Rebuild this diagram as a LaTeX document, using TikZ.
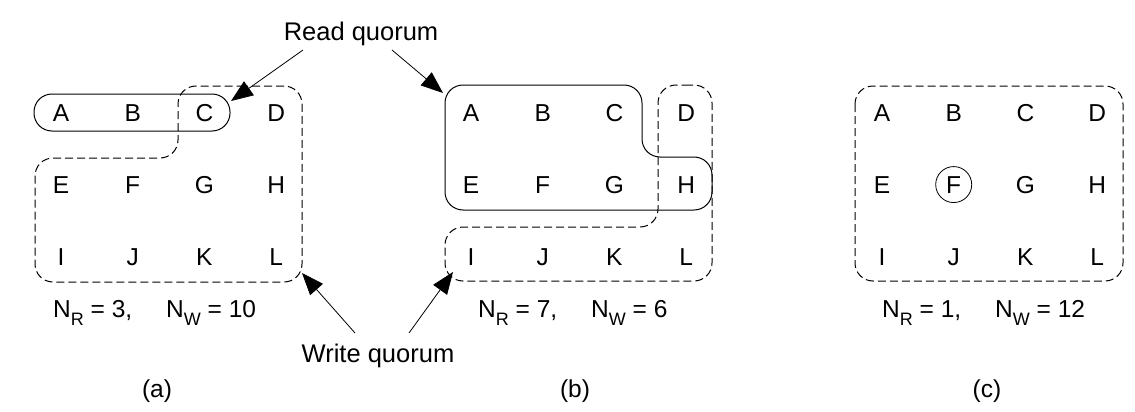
\documentclass[tikz,border=0pt]{standalone}
\usepackage{fontspec}
\setmainfont{Liberation Sans}
\usetikzlibrary{arrows.meta}
\newcommand{\subtxt}[1]{\raisebox{-8pt}{\fontsize{18}{18}\selectfont #1}}
\begin{document}
\begin{tikzpicture}[x=1pt,y=-1pt,
  lbl/.style={font=\fontsize{24.5}{28}\selectfont, inner sep=0pt, anchor=base},
  grp/.style={line width=1pt, rounded corners=18pt},
  dgrp/.style={grp, dash pattern=on 8pt off 4pt},
  arr/.style={line width=0.8pt, -{Triangle[length=22pt,width=17pt]}}]
\useasboundingbox (0,0) rectangle (1135,412);
% letter grids
\foreach \g/\x in {a/61, b/471, c/882}{
  \foreach \n [count=\i from 0] in {A,B,C,D,E,F,G,H,I,J,K,L}{
    \pgfmathtruncatemacro{\col}{mod(\i,4)}
    \pgfmathtruncatemacro{\row}{int(\i/4)}
    \node[lbl] (\g\n) at ({\x+71.7*\col}, {121+72*\row}) {\n};
  }
}
% (a)
\draw[grp] (34,94) rectangle (230,131);
\draw[dgrp] (240,86) -- (302,86) -- (302,282) -- (35,282) -- (35,158) -- (178,158) -- (178,86) -- (240,86);
% (b)
\draw[grp] (540,85) -- (642,85) -- (642,157) -- (712,157) -- (712,210) -- (445,210) -- (445,85) -- (540,85);
\draw[dgrp] (685,85) -- (712,85) -- (712,281) -- (445,281) -- (445,227) -- (658,227) -- (658,85) -- (685,85);
% (c)
\draw[dgrp] (855,86) rectangle (1123,281);
\draw[line width=0.8pt] (cF) circle (18pt);
% quorum labels
\node[lbl, font=\fontsize{25.5}{28}\selectfont] (read) at (361,41) {Read quorum};
\node[lbl, font=\fontsize{25.5}{28}\selectfont] (write) at (378,362) {Write quorum};
\coordinate (r1) at (303,50);
\coordinate (r2) at (392,50);
\coordinate (ra) at (231,101);
\coordinate (rb) at (443,93);
\coordinate (w1) at (355,333);
\coordinate (w2) at (409,333);
\coordinate (wa) at (302,273);
\coordinate (wb) at (453,272);
\draw[arr] (r1) -- (ra);
\draw[arr] (r2) -- (rb);
\draw[arr] (w1) -- (wa);
\draw[arr] (w2) -- (wb);
% N labels
\node[lbl, anchor=base west] (na) at (53,317) {N\subtxt{R} = 3,\hspace{34pt}N\subtxt{W} = 10};
\node[lbl, anchor=base west] (nb) at (478,317) {N\subtxt{R} = 7,\hspace{34pt}N\subtxt{W} = 6};
\node[lbl, anchor=base west] (nc) at (882,317) {N\subtxt{R} = 1,\hspace{34pt}N\subtxt{W} = 12};
% captions
\node[lbl] (capa) at (157,397) {(a)};
\node[lbl] (capb) at (575,397) {(b)};
\node[lbl] (capc) at (987,397) {(c)};
\end{tikzpicture}
\end{document}
